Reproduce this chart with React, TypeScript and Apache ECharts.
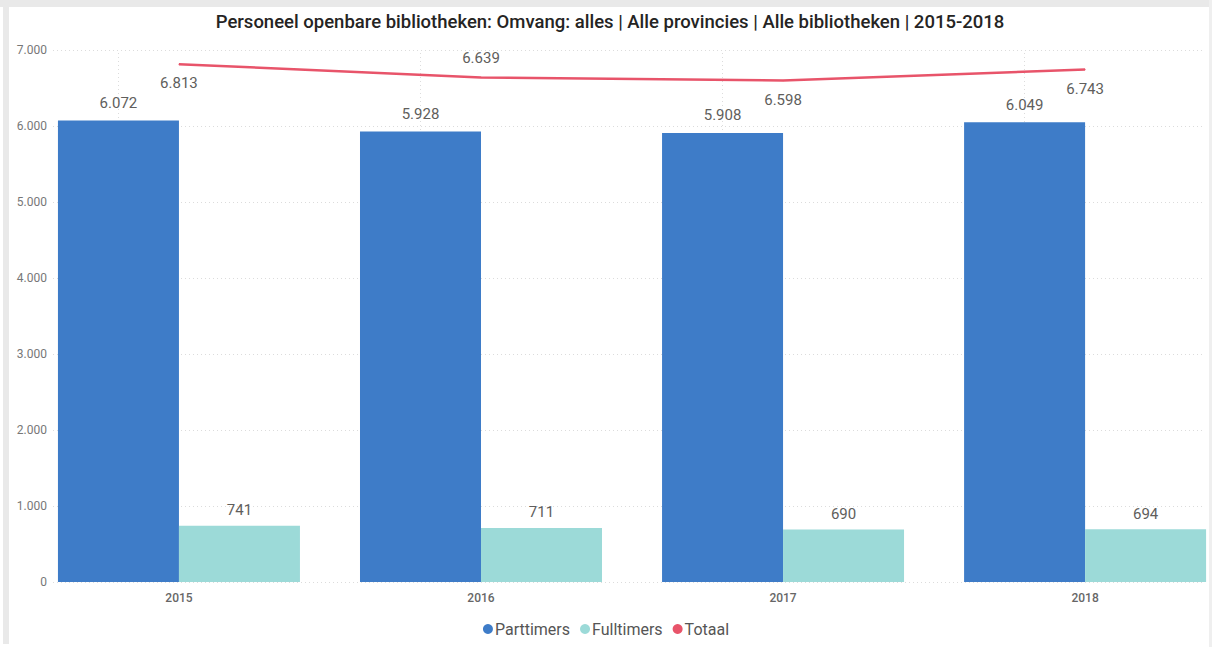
import React, { useEffect, useRef } from "react";
import * as echarts from "echarts";

const years = ["2015", "2016", "2017", "2018"];
const parttimers = [6072, 5928, 5908, 6049];
const fulltimers = [741, 711, 690, 694];
const totaal = [6813, 6639, 6598, 6743];
const totaalLabelPos = ["bottom", "top", "bottom", "bottom"];
const titleText =
  "Personeel openbare bibliotheken: Omvang: alles | Alle provincies | Alle bibliotheken | 2015-2018";

const FONT = "Roboto, 'Noto Sans', sans-serif";

function fmt(v: number): string {
  return String(Math.round(v)).replace(/\B(?=(\d{3})+(?!\d))/g, ".");
}

export default function App() {
  const ref = useRef<HTMLDivElement>(null);
  useEffect(() => {
    document.body.style.margin = "0";
    if (!ref.current) return;
    const chart = echarts.init(ref.current, undefined, { renderer: "svg" });
    const dotted = { color: "#dcdcdc", width: 1, type: [1, 3] as any };
    chart.setOption({
      animation: false,
      textStyle: { fontFamily: FONT },
      graphic: [
        { type: "rect", shape: { x: 0, y: 0, width: 1212, height: 7 }, style: { fill: "#e9e9e9" }, silent: true },
        { type: "rect", shape: { x: 3, y: 0, width: 6, height: 644 }, style: { fill: "#e9e9e9" }, silent: true },
        { type: "rect", shape: { x: 1209, y: 0, width: 3, height: 647 }, style: { fill: "#efefef" }, silent: true },
        {
          type: "text",
          x: 610,
          y: 22,
          style: {
            text: titleText,
            fill: "#252423",
            font: `500 18.5px ${FONT}`,
            textAlign: "center",
            textVerticalAlign: "middle",
          },
          silent: true,
        },
      ],
      legend: {
        left: "center",
        top: 616,
        icon: "circle",
        itemWidth: 10,
        itemHeight: 10,
        itemGap: 10,
        textStyle: { color: "#555", fontSize: 16, fontFamily: FONT, padding: [0, 0, 0, -3] },
        data: ["Parttimers", "Fulltimers", "Totaal"],
      },
      grid: { left: 53, right: 7, top: 50, bottom: 65, containLabel: false },
      xAxis: {
        type: "value",
        min: -0.417,
        max: 3.397,
        axisLine: { show: false },
        axisTick: { show: false },
        splitLine: { show: false },
        axisLabel: {
          customValues: [0, 1, 2, 3],
          formatter: (v: number) => years[Math.round(v)] ?? "",
          color: "#666",
          fontSize: 12,
          fontWeight: 500,
          margin: 10,
          fontFamily: FONT,
        },
      },
      yAxis: {
        type: "value",
        min: 0,
        max: 7000,
        interval: 1000,
        axisLine: { show: false },
        axisTick: { show: false },
        splitLine: { show: true, lineStyle: dotted },
        axisLabel: {
          formatter: (v: number) => fmt(v),
          color: "#777",
          fontSize: 12,
          margin: 6,
          fontFamily: FONT,
        },
      },
      series: [
        {
          name: "Parttimers",
          type: "bar",
          barWidth: 121,
          barGap: "0%",
          itemStyle: { color: "#3E7CC8" },
          data: parttimers.map((v, i) => [i, v]),
          label: {
            show: true,
            position: "top",
            distance: 10,
            color: "#605E5C",
            fontSize: 15,
            fontFamily: FONT,
            formatter: (p: any) => fmt(p.value[1]),
          },
          markLine: {
            silent: true,
            z: 1,
            symbol: ["none", "none"],
            label: { show: false },
            lineStyle: dotted,
            data: years.map((_, i) => ({ xAxis: i })),
          },
        },
        {
          name: "Fulltimers",
          type: "bar",
          barWidth: 121,
          barGap: "0%",
          itemStyle: { color: "#9CDAD8" },
          data: fulltimers.map((v, i) => [i, v]),
          label: {
            show: true,
            position: "top",
            distance: 8,
            color: "#605E5C",
            fontSize: 15,
            fontFamily: FONT,
            formatter: (p: any) => fmt(p.value[1]),
          },
        },
        {
          name: "Totaal",
          type: "line",
          z: 5,
          symbol: "circle",
          symbolSize: 1,
          showSymbol: true,
          itemStyle: { color: "#E8546A" },
          lineStyle: { color: "#E8546A", width: 2.5 },
          data: totaal.map((v, i) => ({
            value: [i, v],
            label: { position: totaalLabelPos[i] },
          })),
          label: {
            show: true,
            distance: 11,
            color: "#605E5C",
            fontSize: 15,
            fontFamily: FONT,
            formatter: (p: any) => fmt(p.value[1]),
          },
        },
      ],
    });
    return () => chart.dispose();
  }, []);
  return <div ref={ref} style={{ width: 1212, height: 647 }} />;
}
